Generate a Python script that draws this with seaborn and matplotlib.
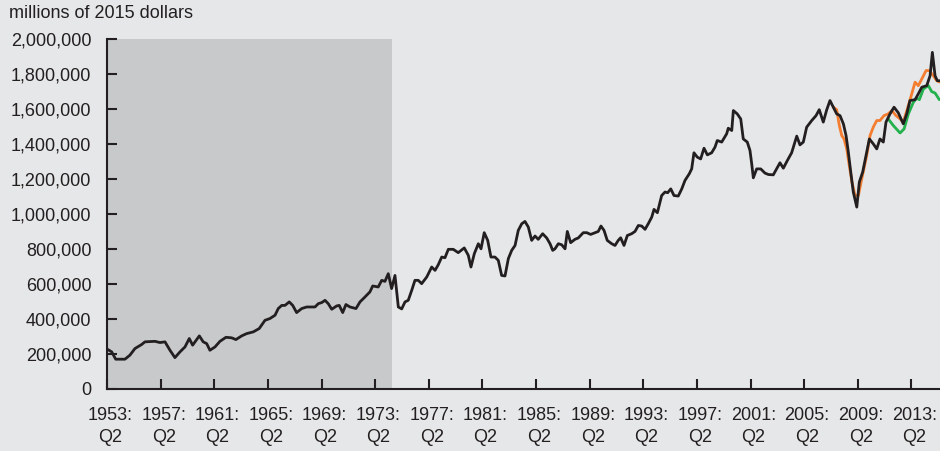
import pandas as pd
import seaborn as sns
import matplotlib.pyplot as plt
import matplotlib.transforms as mtransforms
from matplotlib.ticker import FuncFormatter

# quarterly series (decimal year, millions of 2015 dollars)
hist_years = [
    1953.25, 1953.58, 1953.88, 1954.19, 1954.57, 1954.94, 1955.32, 1955.82, 1956.06, 1956.81,
    1957.18, 1957.56, 1957.93, 1958.30, 1958.68, 1959.05, 1959.37, 1959.62, 1960.12, 1960.41,
    1960.67, 1960.91, 1961.29, 1961.66, 1962.11, 1962.53, 1962.85, 1963.28, 1963.65, 1964.15,
    1964.59, 1965.02, 1965.39, 1965.77, 1966.01, 1966.27, 1966.51, 1966.83, 1967.09, 1967.38,
    1967.76, 1968.13, 1968.50, 1968.75, 1969.00, 1969.25, 1969.50, 1969.74, 1970.00, 1970.37,
    1970.56, 1970.82, 1971.06, 1971.36, 1971.81, 1972.11, 1972.48, 1972.85, 1973.06, 1973.47,
    1973.73, 1973.97, 1974.22, 1974.47, 1974.72, 1974.97, 1975.22, 1975.47, 1975.71, 1975.97,
    1976.21, 1976.46, 1976.71, 1977.09, 1977.46, 1977.71, 1977.95, 1978.21, 1978.45, 1978.70,
    1979.07, 1979.44, 1979.89, 1980.19, 1980.39, 1980.64, 1980.94, 1981.14, 1981.38, 1981.64,
    1981.88, 1982.18, 1982.43, 1982.68, 1982.93, 1983.18, 1983.43, 1983.68, 1983.92, 1984.18,
    1984.42, 1984.67, 1984.92, 1985.17, 1985.41, 1985.74, 1986.04, 1986.29, 1986.49, 1986.66,
    1986.91, 1987.16, 1987.41, 1987.58, 1987.83, 1988.15, 1988.40, 1988.77, 1989.03, 1989.32,
    1989.65, 1989.89, 1990.09, 1990.32, 1990.56, 1990.89, 1991.14, 1991.38, 1991.56, 1991.81,
    1992.06, 1992.38, 1992.63, 1992.88, 1993.13, 1993.38, 1993.62, 1993.88, 1994.05, 1994.30,
    1994.62, 1994.87, 1995.07, 1995.30, 1995.54, 1995.86, 1996.12, 1996.36, 1996.68, 1996.86,
    1997.03, 1997.28, 1997.53, 1997.78, 1998.03, 1998.35, 1998.60, 1998.77, 1999.10, 1999.47,
    1999.59, 1999.85, 1999.97, 2000.26, 2000.52, 2000.71, 2001.01, 2001.21, 2001.34, 2001.46,
    2001.71, 2002.01, 2002.33, 2002.58, 2002.95, 2003.20, 2003.45, 2003.70, 2004.00, 2004.32,
    2004.70, 2004.94, 2005.19, 2005.44, 2005.82, 2006.14, 2006.38, 2006.68, 2006.94, 2007.18,
    2007.43, 2007.68, 2007.93, 2008.18, 2008.38, 2008.55, 2008.73, 2008.92, 2009.18, 2009.37,
    2009.62, 2009.87, 2010.12, 2010.41, 2010.67, 2010.91, 2011.16, 2011.36, 2011.66, 2011.96,
    2012.28, 2012.65, 2012.91, 2013.15, 2013.53, 2013.77, 2014.03, 2014.40, 2014.65, 2014.82,
    2015.02, 2015.19, 2015.39,
]
hist_values = [
    227, 212, 170, 170, 170, 193, 231, 254, 269, 272,
    265, 269, 221, 179, 212, 240, 288, 250, 303, 269,
    259, 221, 240, 272, 295, 292, 282, 303, 316, 326,
    345, 392, 402, 421, 459, 477, 477, 497, 477, 436,
    459, 468, 468, 468, 487, 493, 506, 487, 455, 474,
    477, 436, 482, 468, 459, 497, 525, 554, 588, 582,
    620, 614, 658, 573, 648, 468, 457, 497, 506, 563,
    620, 620, 601, 639, 696, 677, 709, 753, 749, 797,
    797, 778, 805, 763, 696, 772, 829, 800, 892, 848,
    753, 753, 734, 648, 645, 744, 791, 819, 905, 943,
    956, 924, 848, 873, 854, 886, 862, 829, 791, 800,
    829, 823, 800, 899, 835, 854, 862, 892, 892, 882,
    892, 899, 930, 905, 848, 829, 819, 848, 863, 819,
    876, 886, 899, 933, 930, 911, 943, 981, 1025, 1006,
    1104, 1124, 1120, 1142, 1104, 1101, 1142, 1190, 1228, 1256,
    1348, 1323, 1313, 1374, 1336, 1348, 1380, 1418, 1409, 1456,
    1488, 1475, 1589, 1570, 1541, 1427, 1409, 1361, 1285, 1205,
    1256, 1256, 1232, 1224, 1222, 1256, 1291, 1260, 1304, 1348,
    1443, 1393, 1409, 1494, 1532, 1560, 1594, 1523, 1594, 1646,
    1608, 1570, 1560, 1513, 1446, 1351, 1238, 1124, 1038, 1181,
    1238, 1332, 1427, 1399, 1370, 1427, 1409, 1523, 1570, 1608,
    1576, 1513, 1570, 1646, 1651, 1684, 1722, 1731, 1788, 1921,
    1788, 1759, 1759,
]

orange_years = [
    2007.43, 2007.68, 2007.88, 2008.06, 2008.23, 2008.43, 2008.62, 2008.82, 2009.05, 2009.30,
    2009.55, 2009.92, 2010.17, 2010.41, 2010.67, 2010.91, 2011.21, 2011.53, 2011.79, 2012.11,
    2012.41, 2012.65, 2012.95, 2013.21, 2013.53, 2013.77, 2014.03, 2014.35, 2014.59, 2014.89,
    2015.15, 2015.39,
]
orange_values = [
    1608, 1594, 1503, 1446, 1427, 1370, 1275, 1181, 1104, 1104,
    1199, 1332, 1446, 1494, 1532, 1532, 1560, 1570, 1589, 1560,
    1541, 1523, 1598, 1665, 1751, 1731, 1769, 1817, 1817, 1788,
    1759, 1751,
]

green_years = [
    2011.53, 2011.91, 2012.41, 2012.71, 2013.03, 2013.40, 2013.65, 2013.85, 2014.15, 2014.52,
    2014.77, 2015.02, 2015.34,
]
green_values = [
    1541, 1503, 1461, 1484, 1570, 1636, 1660, 1651, 1712, 1731,
    1697, 1689, 1651,
]

tick_years = list(range(1953, 2014, 4))
shade_start, shade_end = 1953.25, 1974.5

BG = '#e6e7e8'
SHADE = '#c8c9cb'
INK = '#231f20'

sns.set_theme(style='ticks')
plt.rcParams['font.family'] = ['Liberation Sans', 'DejaVu Sans']
plt.rcParams['text.color'] = INK

fig = plt.figure(figsize=(9.4, 4.51), dpi=100, facecolor=BG)
ax = fig.add_axes([0.1141, 0.1375, 0.8859, 0.7771])
ax.set_facecolor(BG)

ax.axvspan(shade_start, shade_end, color=SHADE, lw=0, zorder=0)

to_millions = lambda vals: [v * 1000 for v in vals]
sns.lineplot(x=orange_years, y=to_millions(orange_values), color='#f47d30',
             linewidth=2.0, estimator=None, ax=ax)
sns.lineplot(x=green_years, y=to_millions(green_values), color='#22b14c',
             linewidth=2.0, estimator=None, ax=ax)
sns.lineplot(x=hist_years, y=to_millions(hist_values), color=INK,
             linewidth=2.0, estimator=None, ax=ax)

ax.set_xlim(1953.25, 2015.39)
ax.set_ylim(0, 2_000_000)
ax.set_yticks(range(0, 2_000_001, 200_000))
ax.yaxis.set_major_formatter(FuncFormatter(lambda v, _: f'{int(v):,}'))
ax.set_xticks([y + 0.25 for y in tick_years])
ax.set_xticklabels([f'{y}:\nQ2' for y in tick_years], linespacing=1.4)

for side in ['top', 'right']:
    ax.spines[side].set_visible(False)
for side in ['left', 'bottom']:
    ax.spines[side].set_linewidth(1.5)
    ax.spines[side].set_color(INK)

ax.tick_params(axis='both', direction='in', length=7.5, width=1.5, color=INK,
               labelsize=13, labelcolor=INK)
ax.tick_params(axis='y', pad=11.5)
ax.tick_params(axis='x', pad=13)
ax.set_xlabel('')
ax.set_ylabel('')

# the source nudges the date labels a little to the right of their ticks
# (done after tick_params, which resets label transforms)
nudge = mtransforms.ScaledTranslation(3 / 100, 0, fig.dpi_scale_trans)
for tick in ax.xaxis.get_major_ticks():
    tick.label1.set_transform(tick.label1.get_transform() + nudge)

fig.text(9 / 940, 1 - 14 / 451, 'millions of 2015 dollars', fontsize=13,
         ha='left', va='center', color=INK)

fig.savefig('out.png', dpi=100, facecolor=BG)
